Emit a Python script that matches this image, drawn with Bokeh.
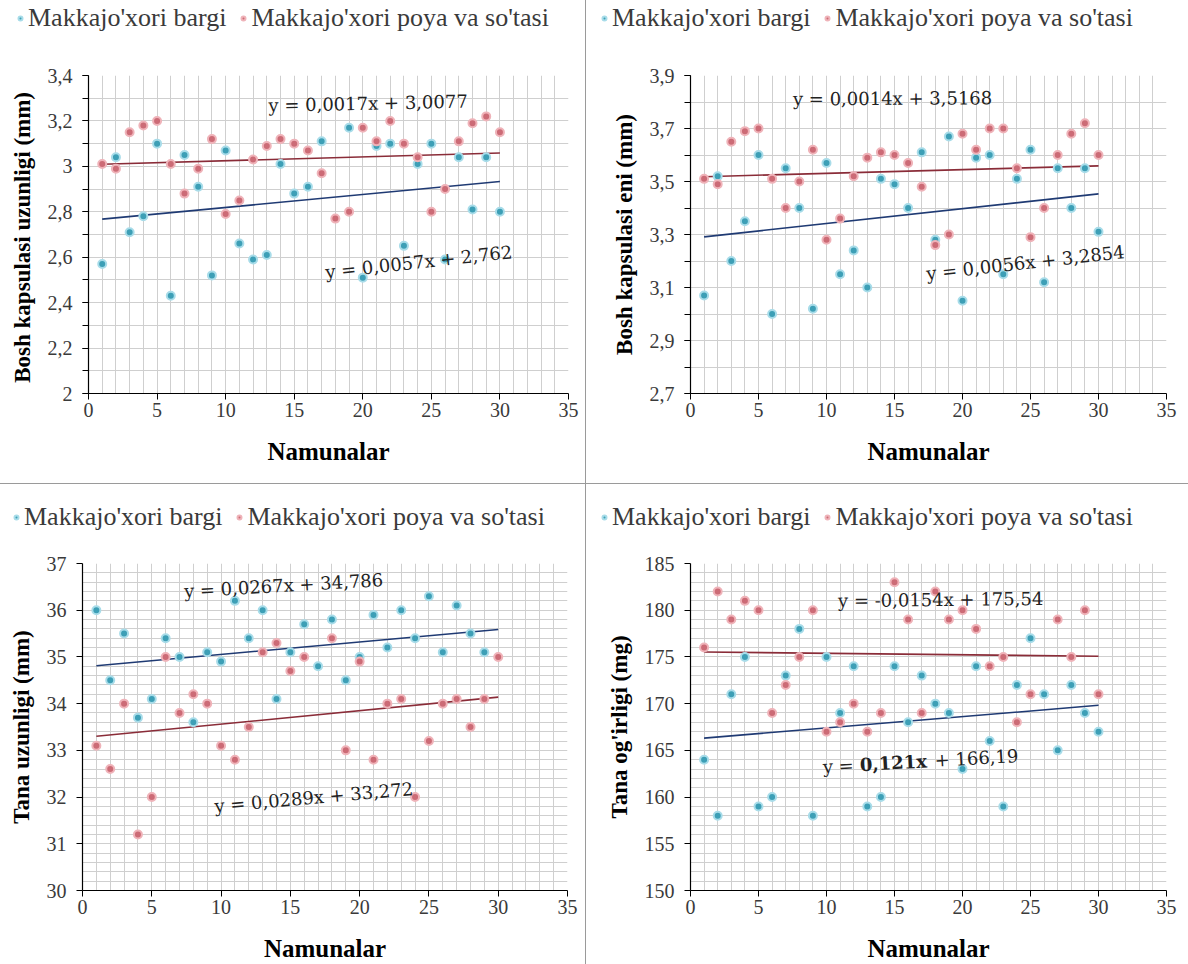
import math
from bokeh.plotting import figure
from bokeh.models import FixedTicker, Legend, LegendItem, Spacer, Range1d
from bokeh.layouts import row, column
from bokeh.core.properties import value
from bokeh.embed import file_html
from bokeh.resources import INLINE

nan = float("nan")

# ---------------- data ----------------
samples = list(range(1, 31))
series_names = ["Makkajo'xori bargi", "Makkajo'xori poya va so'tasi"]
x_title = "Namunalar"
x_ticks = [0, 5, 10, 15, 20, 25, 30, 35]
x_tick_labels = ["0", "5", "10", "15", "20", "25", "30", "35"]

# Panel 1: Bosh kapsulasi uzunligi (mm)
p1_title = "Bosh kapsulasi uzunligi  (mm)"
p1_bargi = [2.57, 3.04, 2.71, 2.78, 3.10, 2.43, 3.05, 2.91, 2.52, 3.07,
            2.66, 2.59, 2.61, 3.01, 2.88, 2.91, 3.11, nan, 3.17, 2.51,
            3.09, 3.10, 2.65, 3.01, 3.10, 2.59, 3.04, 2.81, 3.04, 2.80]
p1_poya = [3.01, 2.99, 3.15, 3.18, 3.20, 3.01, 2.88, 2.99, 3.12, 2.79,
           2.85, 3.03, 3.09, 3.12, 3.10, 3.07, 2.97, 2.77, 2.80, 3.17,
           3.11, 3.20, 3.10, 3.04, 2.80, 2.90, 3.11, 3.19, 3.22, 3.15]
p1_fit_bargi = (0.0057, 2.762)
p1_fit_poya = (0.0017, 3.0077)
p1_eq = ["y = 0,0057x + 2,762", "y = 0,0017x + 3,0077"]
p1_yticks = [2.0, 2.2, 2.4, 2.6, 2.8, 3.0, 3.2, 3.4]
p1_ylabels = ["2", "2,2", "2,4", "2,6", "2,8", "3", "3,2", "3,4"]
p1_yminor = [round(2.0 + 0.1 * i, 1) for i in range(15)]

# Panel 2: Bosh kapsulasi eni (mm)
p2_title = "Bosh kapsulasi eni (mm)"
p2_bargi = [3.07, 3.52, 3.20, 3.35, 3.60, 3.00, 3.55, 3.40, 3.02, 3.57,
            3.15, 3.24, 3.10, 3.51, 3.49, 3.40, 3.61, 3.28, 3.67, 3.05,
            3.59, 3.60, 3.15, 3.51, 3.62, 3.12, 3.55, 3.40, 3.55, 3.31]
p2_poya = [3.51, 3.49, 3.65, 3.69, 3.70, 3.51, 3.40, 3.50, 3.62, 3.28,
           3.36, 3.52, 3.59, 3.61, 3.60, 3.57, 3.48, 3.26, 3.30, 3.68,
           3.62, 3.70, 3.70, 3.55, 3.29, 3.40, 3.60, 3.68, 3.72, 3.60]
p2_fit_bargi = (0.0056, 3.2854)
p2_fit_poya = (0.0014, 3.5168)
p2_eq = ["y = 0,0056x + 3,2854", "y = 0,0014x + 3,5168"]
p2_yticks = [2.7, 2.9, 3.1, 3.3, 3.5, 3.7, 3.9]
p2_ylabels = ["2,7", "2,9", "3,1", "3,3", "3,5", "3,7", "3,9"]
p2_yminor = [round(2.7 + 0.1 * i, 1) for i in range(13)]

# Panel 3: Tana uzunligi (mm)
p3_title = "Tana uzunligi (mm)"
p3_bargi = [36.0, 34.5, 35.5, 33.7, 34.1, 35.4, 35.0, 33.6, 35.1, 34.9,
            36.2, 35.4, 36.0, 34.1, 35.1, 35.7, 34.8, 35.8, 34.5, 35.0,
            35.9, 35.2, 36.0, 35.4, 36.3, 35.1, 36.1, 35.5, 35.1, nan]
p3_poya = [33.1, 32.6, 34.0, 31.2, 32.0, 35.0, 33.8, 34.2, 34.0, 33.1,
           32.8, 33.5, 35.1, 35.3, 34.7, 35.0, nan, 35.4, 33.0, 34.9,
           32.8, 34.0, 34.1, 32.0, 33.2, 34.0, 34.1, 33.5, 34.1, 35.0]
p3_fit_bargi = (0.0267, 34.786)
p3_fit_poya = (0.0289, 33.272)
p3_eq = ["y = 0,0267x + 34,786", "y = 0,0289x + 33,272"]
p3_yticks = [30, 31, 32, 33, 34, 35, 36, 37]
p3_ylabels = ["30", "31", "32", "33", "34", "35", "36", "37"]
p3_ygrid = [round(30 + 0.2 * i, 1) for i in range(36)]

# Panel 4: Tana og'irligi (mg)
p4_title = "Tana og'irligi (mg)"
p4_bargi = [164, 158, 171, 175, 159, 160, 173, 178, 158, 175,
            169, 174, 159, 160, 174, 168, 173, 170, 169, 163,
            174, 166, 159, 172, 177, 171, 165, 172, 169, 167]
p4_poya = [176, 182, 179, 181, 180, 169, 172, 175, 180, 167,
           168, 170, 167, 169, 183, 179, 169, 182, 179, 180,
           178, 174, 175, 168, 171, nan, 179, 175, 180, 171]
p4_fit_bargi = (0.121, 166.19)
p4_fit_poya = (-0.0154, 175.54)
p4_eq_bold = ["y = ", "0,121x", " + 166,19"]
p4_eq = ["y = -0,0154x + 175,54"]
p4_yticks = [150, 155, 160, 165, 170, 175, 180, 185]
p4_ylabels = ["150", "155", "160", "165", "170", "175", "180", "185"]
p4_ygrid = list(range(150, 186))

# ---------------- styling ----------------
BLUE = "#3d9fb6"
BLUE_EDGE = "#a8dce9"
RED = "#cc6b76"
RED_EDGE = "#efb3b9"
BLUE_FIT = "#1f3a73"
RED_FIT = "#8a2c38"
SERIF = "Liberation Serif"
EQ_FONT = "DejaVu Serif"
TICK_COLOR = "#3a3a3a"
DIV = "#9a9a9a"


def scatter_style(p, xs, ys, color, edge):
    return p.scatter(xs, ys, size=8, fill_color=color, line_color=edge, line_width=2)


def make_legend_fig(w, h, left, top):
    lf = figure(width=w, height=h, x_range=Range1d(0, 1), y_range=Range1d(0, 1),
                x_axis_type=None, y_axis_type=None, output_backend="svg",
                toolbar_location=None, min_border_left=left, min_border_top=top,
                min_border_right=0, min_border_bottom=0)
    lf.outline_line_color = None
    lf.grid.visible = False
    rb = scatter_style(lf, [nan], [nan], BLUE, BLUE_EDGE)
    rp = scatter_style(lf, [nan], [nan], RED, RED_EDGE)
    legend = Legend(items=[LegendItem(label=series_names[0], renderers=[rb]),
                           LegendItem(label=series_names[1], renderers=[rp])],
                    orientation="horizontal", location="top_left")
    legend.label_text_font = SERIF
    legend.label_text_font_size = "26px"
    legend.label_text_color = TICK_COLOR
    legend.label_height = 24
    legend.glyph_height = 24
    legend.glyph_width = 10
    legend.label_standoff = 3
    legend.spacing = 12
    legend.padding = 0
    legend.margin = 0
    legend.border_line_color = None
    legend.background_fill_alpha = 0
    lf.add_layout(legend)
    return lf


def make_panel(bargi, poya, fit_b, fit_p, y_rng, yticks, ylabels, yminor, ygrid,
               ytitle, size, borders):
    w, h = size
    bl, br, bt, bb = borders
    p = figure(width=w, height=h, x_range=(0, 35), y_range=y_rng,
               output_backend="svg", toolbar_location=None,
               min_border_left=bl, min_border_right=br,
               min_border_top=bt, min_border_bottom=bb)
    p.outline_line_color = None
    p.background_fill_color = "white"
    p.border_fill_color = "white"

    p.xgrid.ticker = FixedTicker(ticks=list(range(0, 36)))
    p.ygrid.ticker = FixedTicker(ticks=ygrid)
    p.xgrid.grid_line_color = "#cfcfcf"
    p.ygrid.grid_line_color = "#cfcfcf"

    p.xaxis.ticker = FixedTicker(ticks=x_ticks)
    p.xaxis.major_label_overrides = dict(zip(x_ticks, x_tick_labels))
    p.yaxis.ticker = FixedTicker(ticks=yticks, minor_ticks=yminor)
    p.yaxis.major_label_overrides = dict(zip(yticks, ylabels))
    for ax in (p.xaxis[0], p.yaxis[0]):
        ax.axis_line_color = "black"
        ax.axis_line_width = 1.2
        ax.major_tick_line_color = "black"
        ax.minor_tick_line_color = "black"
        ax.major_tick_in = 0
        ax.major_tick_out = 6
        ax.minor_tick_in = 0
        ax.minor_tick_out = 6
        ax.major_label_text_font = SERIF
        ax.major_label_text_font_size = "20px"
        ax.major_label_text_color = TICK_COLOR
        ax.axis_label_text_font = SERIF
        ax.axis_label_text_font_style = "bold"
        ax.axis_label_text_color = "black"
    p.xaxis.minor_tick_out = 0
    p.xaxis.major_label_standoff = 3
    p.yaxis.major_label_standoff = 10
    p.xaxis.axis_label = x_title
    p.xaxis.axis_label_text_font_size = "25px"
    p.xaxis.axis_label_standoff = 18
    p.yaxis.axis_label = ytitle
    p.yaxis.axis_label_text_font_size = "23px"
    p.yaxis.axis_label_standoff = 10

    xs = [samples[0], samples[-1]]
    p.line(xs, [fit_b[0] * x + fit_b[1] for x in xs], line_color=BLUE_FIT, line_width=1.6)
    p.line(xs, [fit_p[0] * x + fit_p[1] for x in xs], line_color=RED_FIT, line_width=1.6)

    scatter_style(p, samples, bargi, BLUE, BLUE_EDGE)
    scatter_style(p, samples, poya, RED, RED_EDGE)
    return p


def eq_text(p, x, y, txt, angle_deg, bold=False, dx=0.0):
    a = math.radians(angle_deg)
    p.text(x=[x], y=[y], text=[txt], angle=a,
           x_offset=dx * math.cos(a), y_offset=-dx * math.sin(a),
           text_font=value(EQ_FONT), text_font_size="18px",
           text_font_style="bold" if bold else "normal",
           text_color="#222222", text_baseline="middle", text_align="left")


# top row
leg1 = make_legend_fig(585, 40, 15, 3)
leg2 = make_legend_fig(602, 40, 13, 3)

p1 = make_panel(p1_bargi, p1_poya, p1_fit_bargi, p1_fit_poya, (2, 3.4),
                p1_yticks, p1_ylabels, p1_yminor, p1_yminor, p1_title,
                (585, 443), (88, 17, 35, 90))
eq_text(p1, 17.27, 2.535, p1_eq[0], 6.2)
eq_text(p1, 13.12, 3.269, p1_eq[1], 1.2)

p2 = make_panel(p2_bargi, p2_poya, p2_fit_bargi, p2_fit_poya, (2.7, 3.9),
                p2_yticks, p2_ylabels, p2_yminor, p2_yminor, p2_title,
                (602, 443), (104, 22, 35, 90))
eq_text(p2, 17.33, 3.153, p2_eq[0], 6.3)
eq_text(p2, 7.53, 3.812, p2_eq[1], 0.3)

# bottom row
leg3 = make_legend_fig(585, 50, 11, 18)
leg4 = make_legend_fig(602, 50, 13, 18)

p3 = make_panel(p3_bargi, p3_poya, p3_fit_bargi, p3_fit_poya, (30, 37),
                p3_yticks, p3_ylabels, [], p3_ygrid, p3_title,
                (585, 430), (82, 18, 29, 71))
eq_text(p3, 7.33, 36.41, p3_eq[0], 3.3)
eq_text(p3, 9.52, 31.81, p3_eq[1], 5.0)

p4 = make_panel(p4_bargi, p4_poya, p4_fit_bargi, p4_fit_poya, (150, 185),
                p4_yticks, p4_ylabels, [], p4_ygrid, p4_title,
                (602, 430), (104, 22, 29, 71))
eq_text(p4, 10.84, 181.03, p4_eq[0], 0.6)
eq_text(p4, 9.73, 163.24, p4_eq_bold[0], 3.3)
eq_text(p4, 9.73, 163.24, p4_eq_bold[1], 3.3, bold=True, dx=37)
eq_text(p4, 9.73, 163.24, p4_eq_bold[2], 3.3, dx=112)


def vdiv(h):
    return Spacer(width=1, height=h, styles={"background-color": DIV})


layout = column(
    row(leg1, vdiv(40), leg2),
    row(p1, vdiv(443), p2),
    Spacer(width=1188, height=1, styles={"background-color": DIV}),
    row(leg3, vdiv(50), leg4),
    row(p3, vdiv(430), p4),
)

open("out.html", "w").write(file_html(layout, INLINE))
